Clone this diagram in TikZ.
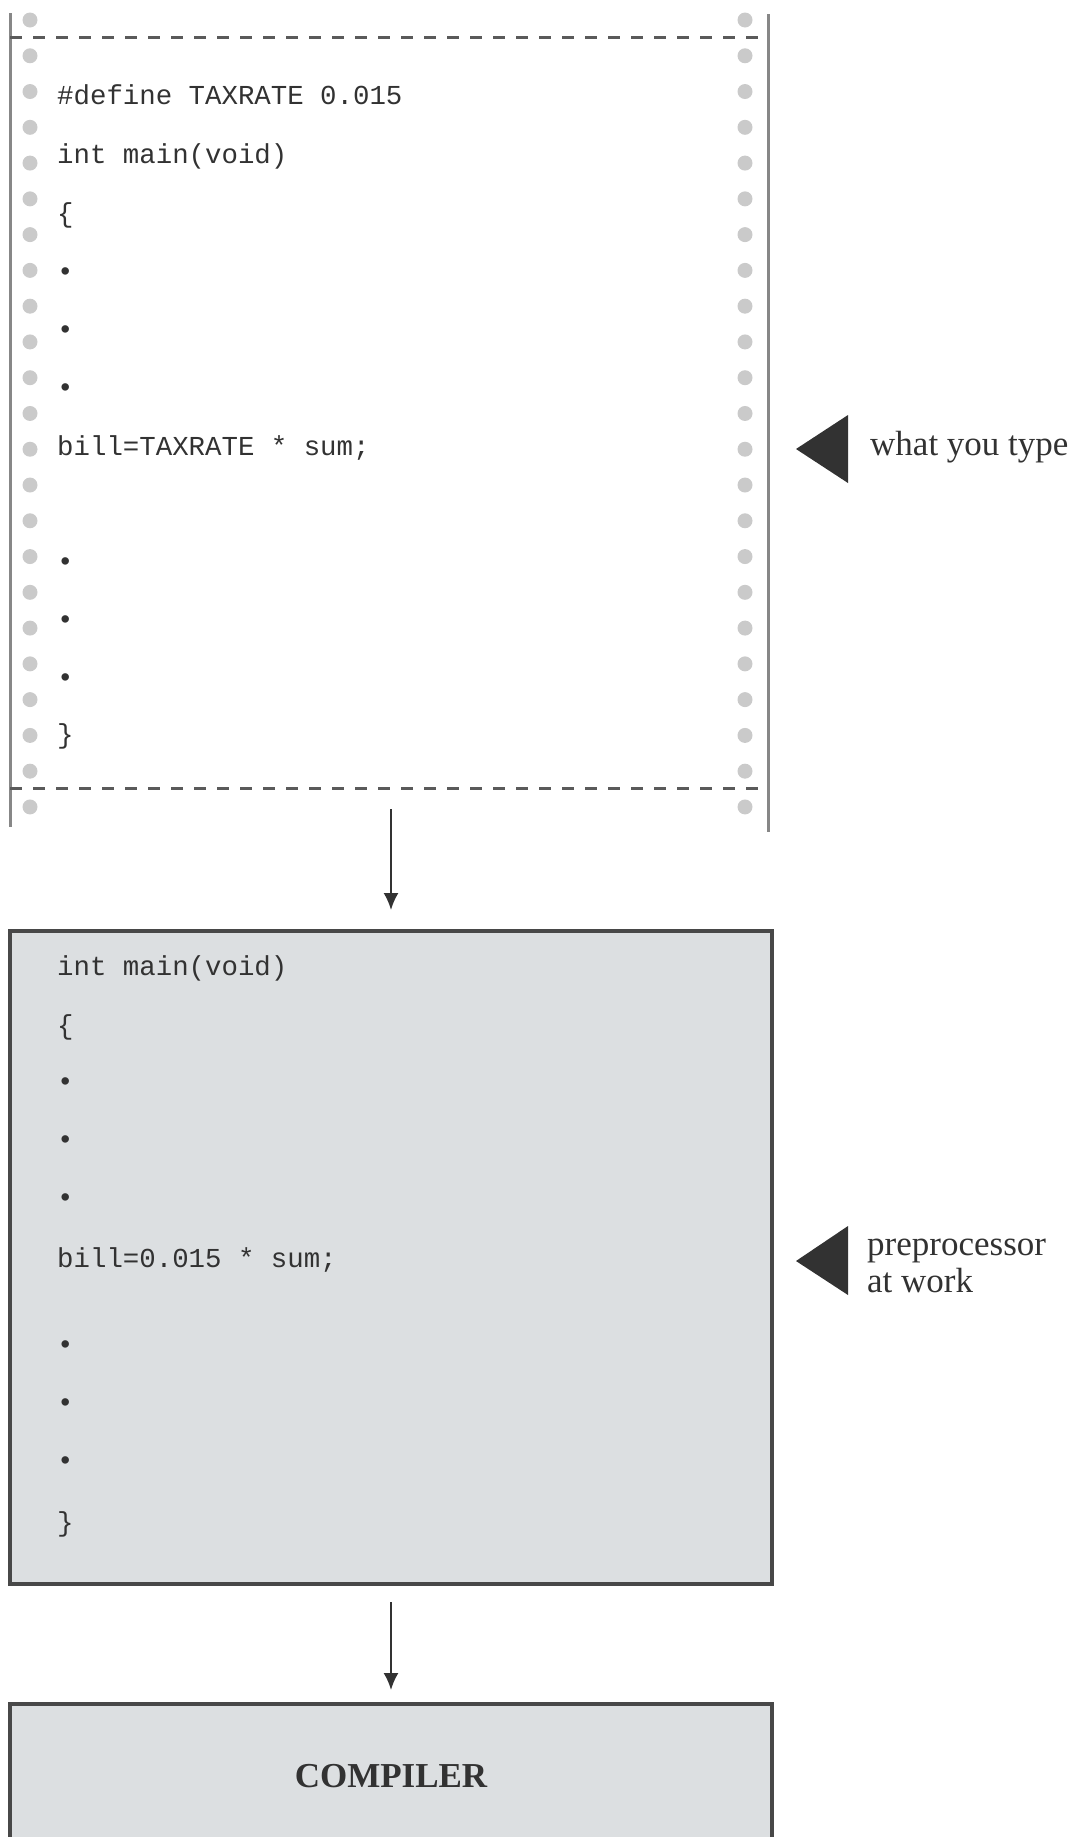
\documentclass[tikz,border=0pt]{standalone}
\usepackage{fontspec}
\setmainfont{Liberation Serif}
\setmonofont{Liberation Mono}
\usetikzlibrary{arrows.meta}

\definecolor{paperline}{RGB}{135,135,135}
\definecolor{perfline}{RGB}{90,90,90}
\definecolor{hole}{RGB}{202,202,202}
\definecolor{ink}{RGB}{50,50,50}
\definecolor{boxfill}{RGB}{220,223,225}
\definecolor{boxline}{RGB}{72,72,72}

\begin{document}
\begin{tikzpicture}[x=1pt,y=-1pt,
    code/.style={anchor=base west,inner sep=0pt,text=ink,font=\ttfamily\fontsize{27.4}{30}\selectfont},
    note/.style={anchor=base west,inner sep=0pt,text=ink,font=\fontsize{35}{37}\selectfont},
    panel/.style={draw=boxline,fill=boxfill,line width=3.5pt,minimum width=762pt,inner sep=0pt,outer sep=0pt},
    flow/.style={draw=ink,line width=2pt,-{Latex[length=17pt,width=15pt]}},
    pointer/.style={fill=ink}]

            \useasboundingbox (0,0) rectangle (1073,1837);

            % sprocket holes
            \foreach \k in {0,...,22} {
                \fill[hole] (30,20+35.77*\k) circle (7.5pt);
                \fill[hole] (745,20+35.77*\k) circle (7.5pt);
            }

            % paper edges
            \draw[paperline,line width=3pt] (10,13) -- (10,827);
            \draw[paperline,line width=3pt] (768,14) -- (768,832);

            % tear lines
            \draw[perfline,line width=3pt,dash pattern=on 12pt off 11pt] (10,37.5) -- (768,37.5);
            \draw[perfline,line width=3pt,dash pattern=on 12pt off 11pt] (10,788) -- (768,788);

            % what you type
            \node[code] (defA)   at (57,104.5) {\#define TAXRATE 0.015};
            \node[code] (mainA)  at (57,163) {int main(void)};
            \node[code] (openA)  at (57,222) {\{};
            \node[code] (dotA1)  at (57,280) {•};
            \node[code] (dotA2)  at (57,338) {•};
            \node[code] (dotA3)  at (57,396) {•};
            \node[code] (billA)  at (57,455) {bill=TAXRATE * sum;};
            \node[code] (dotA4)  at (57,570) {•};
            \node[code] (dotA5)  at (57,628) {•};
            \node[code] (dotA6)  at (57,686) {•};
            \node[code] (closeA) at (57,743) {\}};

            \fill[pointer] (796,449) -- (848,415) -- (848,483) -- cycle;
            \node[note] (typed) at (870,455) {what you type};

            % after the preprocessor
            \node[panel,minimum height=653pt] (pre) at (391,1257.5) {};

            \node[code] (mainB)  at (57,975) {int main(void)};
            \node[code] (openB)  at (57,1034) {\{};
            \node[code] (dotB1)  at (57,1090) {•};
            \node[code] (dotB2)  at (57,1148) {•};
            \node[code] (dotB3)  at (57,1206) {•};
            \node[code] (billB)  at (57,1267) {bill=0.015 * sum;};
            \node[code] (dotB4)  at (57,1353) {•};
            \node[code] (dotB5)  at (57,1411) {•};
            \node[code] (dotB6)  at (57,1469) {•};
            \node[code] (closeB) at (57,1531) {\}};

            \fill[pointer] (796,1261) -- (848,1226) -- (848,1295) -- cycle;
            \node[note] (prelbl) at (867,1255) {preprocessor};
            \node[note] (worklbl) at (867,1292) {at work};

            % compiler, runs off the page
            \node[panel,minimum height=144pt,font=\bfseries\fontsize{35}{37}\selectfont,text=ink] (comp) at (391,1776) {COMPILER};

            % arrows
            \coordinate (paperout) at (391,809);
            \draw[flow,shorten >=21pt] (paperout) -- (pre.north);
            \draw[flow,shorten <=18pt,shorten >=14pt] (pre.south) -- (comp.north);

\end{tikzpicture}
\end{document}
